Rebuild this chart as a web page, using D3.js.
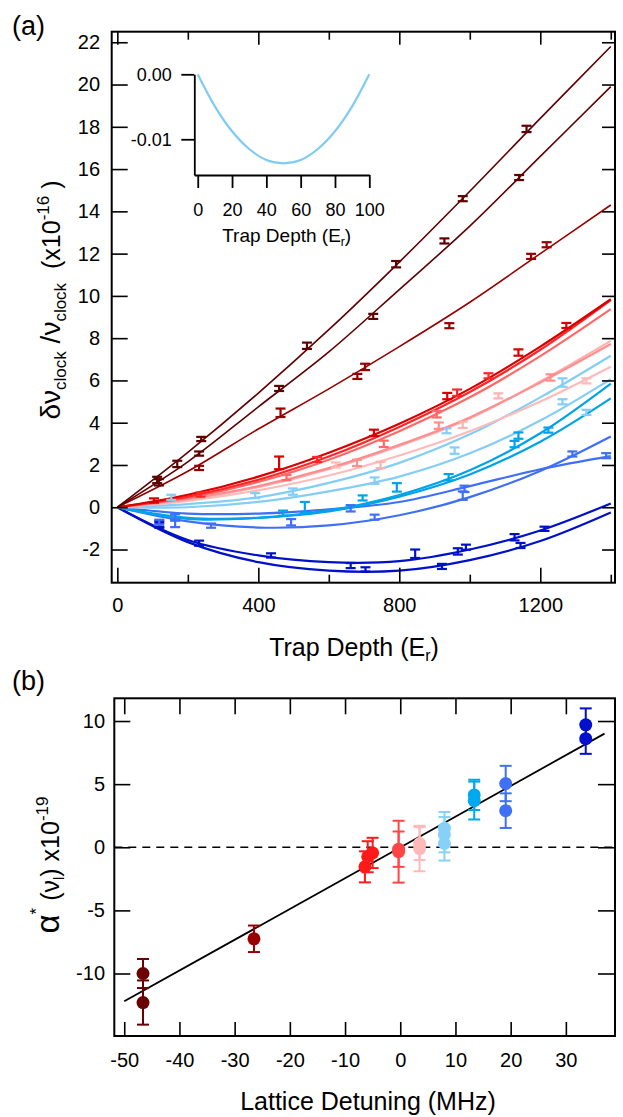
<!DOCTYPE html>
<html><head><meta charset="utf-8">
<script src="https://cdn.jsdelivr.net/npm/d3@7"></script>
<style>
body{margin:0;background:#fff}
svg{display:block}
text{font-family:"Liberation Sans",Arial,Helvetica,sans-serif;fill:#000}
</style>
</head><body>
<svg id="c" width="623" height="1117"></svg>
<script>
// ---------- Panel (a) data ----------
const depthGrid = [0, 200, 400, 600, 800, 1000, 1200, 1400];
const fitMaroon1 = [0, 2.6, 5.4, 8.4, 11.6, 14.95, 18.4, 21.8];
const fitMaroon2 = [0, 2.15, 4.75, 7.35, 10.3, 13.3, 16.6, 19.9];
const fitDarkRed = [0, 1.7, 3.7, 5.6, 7.6, 9.7, 12.0, 14.3];
const fitRedA = [0, 0.59, 1.45, 2.58, 3.95, 5.6, 7.6, 9.84];
const fitRedB = [0, 0.5, 1.3, 2.4, 3.8, 5.45, 7.45, 9.8];
const fitSalmon = [0, 0.45, 1.2, 2.25, 3.6, 5.2, 7.15, 9.37];
const fitSalmon2 = [0, 0.4, 1.0, 1.85, 2.95, 4.25, 5.9, 7.72];
const fitPink1 = [0, 0.35, 0.95, 1.8, 2.9, 4.2, 5.95, 7.87];
const fitPink2 = [0, 0.3, 0.8, 1.5, 2.45, 3.6, 5.0, 6.65];
const fitLightBlue1 = [0, 0.15, 0.47, 1.15, 2.1, 3.45, 5.2, 7.17];
const fitLightBlue2 = [0, 0.0, 0.25, 0.75, 1.45, 2.55, 4.1, 6.06];
const fitCyan1 = [0, -0.55, -0.5, -0.15, 0.58, 1.75, 3.5, 5.85];
const fitCyan2 = [0, -0.5, -0.5, -0.2, 0.5, 1.55, 3.1, 5.15];
const fitBlueFlat = [0, -0.3, -0.3, -0.1, 0.25, 1.0, 1.8, 2.42];
const fitBlueSteep = [0, -0.67, -0.96, -0.86, -0.38, 0.48, 1.72, 3.35];
const fitDarkBlue1 = [0, -1.55, -2.28, -2.6, -2.55, -2.0, -1.1, 0.18];
const fitDarkBlue2 = [0, -1.65, -2.6, -3.0, -3.0, -2.5, -1.6, -0.25];

// measured points [trap depth, shift, error]
const ptsMaroon1 = [[113,1.29,0.15],[170,2.05,0.15],[238,3.23,0.1],[538,7.64,0.15],[791,11.5,0.15],[980,14.6,0.12],[1161,17.9,0.15]];
const ptsMaroon2 = [[118,1.18,0.15],[232,2.54,0.1],[459,5.62,0.12],[726,9.03,0.12],[928,12.6,0.12],[1140,15.6,0.12]];
const ptsDarkRed = [[232,1.86,0.1],[463,4.47,0.2],[681,6.19,0.12],[703,6.64,0.15],[942,8.59,0.12],[1174,11.87,0.12],[1218,12.42,0.12]];
const ptsRedA = [[104,0.32,0.1],[459,2.1,0.3],[728,3.52,0.15],[936,5.26,0.15],[1138,7.32,0.15],[1274,8.6,0.12]];
const ptsRedB = [[236,0.6,0.1],[567,2.26,0.12],[964,5.42,0.15],[1053,6.22,0.12]];
const ptsSalmon = [[480,1.4,0.12],[756,3.0,0.15],[906,4.4,0.15]];
const ptsSalmon2 = [[680,2.1,0.15],[912,3.86,0.15],[1229,6.14,0.15]];
const ptsPink1 = [[747,2.0,0.15],[980,3.9,0.15],[1081,5.27,0.12]];
const ptsPink2 = [[620,2.0,0.12],[1331,5.98,0.12]];
const ptsLightBlue1 = [[153,0.47,0.12],[391,0.55,0.12],[934,3.62,0.12],[1263,5.9,0.2]];
const ptsLightBlue2 = [[498,0.74,0.15],[730,1.26,0.15],[957,2.68,0.15],[1263,4.99,0.12],[1331,4.49,0.12]];
const ptsCyan1 = [[470,-0.28,0.12],[696,0.44,0.12],[793,0.94,0.2],[1138,3.39,0.15],[1223,3.65,0.12]];
const ptsCyan2 = [[532,0.0,0.25],[940,1.42,0.15],[1127,2.99,0.15]];
const ptsBlueFlat = [[164,-0.45,0.12],[662,-0.05,0.15],[985,0.87,0.15],[1387,2.44,0.12]];
const ptsBlueSteep = [[119,-0.71,0.12],[164,-0.79,0.15],[266,-0.87,0.1],[493,-0.71,0.15],[730,-0.47,0.12],[980,0.55,0.2],[1291,2.52,0.12]];
const ptsDarkBlue1 = [[119,-0.79,0.15],[232,-1.7,0.12],[436,-2.28,0.1],[845,-2.2,0.2],[966,-2.09,0.15],[989,-1.89,0.12],[1127,-1.42,0.15],[1212,-1.02,0.1]];
const ptsDarkBlue2 = [[119,-0.85,0.12],[662,-2.76,0.12],[704,-2.94,0.1],[921,-2.8,0.12],[1144,-1.81,0.12]];

const seriesColors = ["#5e0000","#5e0000","#960000","#d80000","#ff2626","#ff6868","#ff8e8e","#ffb2b2","#ffbaba",
  "#84cdf6","#84cdf6","#00a3ea","#00a3ea","#3f6ff6","#3f6ff6","#0010c8","#0010c8"];

// inset data
const insetDepth = [0, 10, 20, 30, 40, 50, 60, 70, 80, 90, 100];
const insetShift = [0, -0.00493, -0.00877, -0.0115, -0.0132, -0.0137, -0.0132, -0.0115, -0.00877, -0.00493, 0];

// ---------- Panel (b) data ----------
const detuning = [-46.6, -46.6, -26.5, -6.4, -5.9, -5.0, -0.3, -0.3, 3.5, 3.5, 8.0, 8.0, 8.0, 13.4, 13.4, 19.1, 19.1, 33.6, 33.6];
const alphaStar = [-10.0, -12.3, -7.25, -1.55, -0.75, -0.45, -0.15, -0.35, 0.3, -0.1, 1.5, 1.0, 0.3, 4.15, 3.7, 5.05, 2.9, 9.7, 8.6];
const alphaErr = [1.15, 1.75, 1.05, 1.23, 1.23, 1.2, 1.4, 2.45, 1.3, 1.8, 1.3, 1.4, 1.35, 1.2, 1.5, 1.4, 1.37, 1.3, 1.2];
const pointColors = ["#6a0000","#6a0000","#990000","#ff1a1a","#ff1a1a","#ff1a1a","#ff4545","#ff4545","#ffb9b9","#ffb9b9",
  "#87d0f8","#87d0f8","#87d0f8","#00a8f0","#00a8f0","#4070f5","#4070f5","#0010cc","#0010cc"];
const fitLine = [[-50, -12.2], [37, 9.0]];

const ticksA_major = [0, 400, 800, 1200];
const ticksA_minor = [200, 600, 1000, 1400];
const ticksA_y = [-2, 0, 2, 4, 6, 8, 10, 12, 14, 16, 18, 20, 22];
const ticksInsetX = [0, 20, 40, 60, 80, 100];
const ticksInsetY = [0, -0.01];
const ticksB_x = [-50, -40, -30, -20, -10, 0, 10, 20, 30];
const ticksB_y = [-10, -5, 0, 5, 10];

// ---------- drawing ----------
const svg = d3.select("#c");
const fmt = d => String(d);

function styleAxis(g, w) {
  g.selectAll(".tick line").attr("stroke", "#000").attr("stroke-width", w);
  g.select(".domain").remove();
}

// Panel (a)
const xA = d3.scaleLinear().domain([-16, 1412]).range([111.7, 615]);
const yA = d3.scaleLinear().domain([-3.57, 22.5]).range([582.7, 31.7]);
const gA = svg.append("g");

const fits = [fitMaroon1, fitMaroon2, fitDarkRed, fitRedA, fitRedB, fitSalmon, fitSalmon2, fitPink1, fitPink2,
  fitLightBlue1, fitLightBlue2, fitCyan1, fitCyan2, fitBlueFlat, fitBlueSteep, fitDarkBlue1, fitDarkBlue2];
const pts = [ptsMaroon1, ptsMaroon2, ptsDarkRed, ptsRedA, ptsRedB, ptsSalmon, ptsSalmon2, ptsPink1, ptsPink2,
  ptsLightBlue1, ptsLightBlue2, ptsCyan1, ptsCyan2, ptsBlueFlat, ptsBlueSteep, ptsDarkBlue1, ptsDarkBlue2];

const lineA = d3.line().x(d => xA(d[0])).y(d => yA(d[1])).curve(d3.curveCatmullRom.alpha(0.5));
const order = d3.range(fits.length).reverse();
order.forEach(i => {
  const data = depthGrid.map((x, k) => [x, fits[i][k]]);
  gA.append("path").attr("d", lineA(data)).attr("fill", "none")
    .attr("stroke", seriesColors[i]).attr("stroke-width", i < 3 ? 1.6 : 2.2);
});
order.forEach(i => {
  const g = gA.append("g").attr("stroke", seriesColors[i]).attr("stroke-width", 2.2);
  pts[i].forEach(p => {
    const cx = xA(p[0]), y1 = yA(p[1] + p[2]), y2 = yA(p[1] - p[2]);
    g.append("line").attr("x1", cx).attr("x2", cx).attr("y1", y1).attr("y2", y2);
    g.append("line").attr("x1", cx - 5).attr("x2", cx + 5).attr("y1", y1).attr("y2", y1);
    g.append("line").attr("x1", cx - 5).attr("x2", cx + 5).attr("y1", y2).attr("y2", y2);
  });
});

gA.append("g").attr("transform", "translate(0,582.7)")
  .call(d3.axisBottom(xA).tickValues(ticksA_major).tickSize(-15).tickPadding(15).tickFormat(fmt))
  .call(g => styleAxis(g, 1.6)).call(g => g.selectAll("text").attr("font-size", 20));
gA.append("g").attr("transform", "translate(0,582.7)")
  .call(d3.axisBottom(xA).tickValues(ticksA_minor).tickSize(-8).tickFormat(""))
  .call(g => styleAxis(g, 1.6));
gA.append("g").attr("transform", "translate(0,31.7)")
  .call(d3.axisTop(xA).tickValues(ticksA_major).tickSize(-13).tickFormat(""))
  .call(g => styleAxis(g, 1.6));
gA.append("g").attr("transform", "translate(0,31.7)")
  .call(d3.axisTop(xA).tickValues(ticksA_minor).tickSize(-8).tickFormat(""))
  .call(g => styleAxis(g, 1.6));
gA.append("g").attr("transform", "translate(111.7,0)")
  .call(d3.axisLeft(yA).tickValues(ticksA_y).tickSize(-16).tickPadding(11.7).tickFormat(fmt))
  .call(g => styleAxis(g, 1.6)).call(g => g.selectAll("text").attr("font-size", 20));
gA.append("g").attr("transform", "translate(615,0)")
  .call(d3.axisRight(yA).tickValues(ticksA_y).tickSize(-13).tickFormat(""))
  .call(g => styleAxis(g, 1.6));
gA.append("rect").attr("x", 111.7).attr("y", 31.7).attr("width", 615 - 111.7).attr("height", 582.7 - 31.7)
  .attr("fill", "none").attr("stroke", "#000").attr("stroke-width", 2);

// inset
const xI = d3.scaleLinear().domain([-2, 100]).range([194.3, 369.3]);
const yI = d3.scaleLinear().domain([-0.0155, 0]).range([175, 74.3]);
const gI = svg.append("g");
gI.append("path").attr("d", d3.line().x(d => xI(d[0])).y(d => yI(d[1])).curve(d3.curveCatmullRom.alpha(0.5))(insetDepth.map((x, k) => [x, insetShift[k]])))
  .attr("fill", "none").attr("stroke", "#7fcbf4").attr("stroke-width", 2.2);
gI.append("g").attr("transform", "translate(0,175)")
  .call(d3.axisBottom(xI).tickValues(ticksInsetX).tickSize(13).tickSizeOuter(0).tickPadding(15).tickFormat(fmt))
  .call(g => { g.selectAll("line,path").attr("stroke", "#000").attr("stroke-width", 1.8); g.selectAll("text").attr("font-size", 18); });
gI.append("g").attr("transform", "translate(194.3,0)")
  .call(d3.axisLeft(yI).tickValues(ticksInsetY).tickSize(13).tickSizeOuter(0).tickPadding(9.5).tickFormat(d => d.toFixed(2)))
  .call(g => { g.selectAll("line,path").attr("stroke", "#000").attr("stroke-width", 1.8); g.selectAll("text").attr("font-size", 18); });
const tI = gI.append("text").attr("x", 286.7).attr("y", 241.7).attr("text-anchor", "middle").attr("font-size", 19);
tI.append("tspan").text("Trap Depth (E");
tI.append("tspan").attr("font-size", 12).attr("dy", 4).text("r");
tI.append("tspan").attr("dy", -4).text(")");

// axis titles (a)
const tA = svg.append("text").attr("x", 354).attr("y", 656).attr("text-anchor", "middle").attr("font-size", 25);
tA.append("tspan").text("Trap Depth (E");
tA.append("tspan").attr("font-size", 16).attr("dy", 5).text("r");
tA.append("tspan").attr("dy", -5).text(")");

const yTa = svg.append("text").attr("transform", "translate(60,300) rotate(-90)").attr("text-anchor", "middle")
  .attr("font-size", 25).style("white-space", "pre");
yTa.append("tspan").attr("font-size", 28).text("δν");
yTa.append("tspan").attr("font-size", 17).attr("dy", 6).text("clock");
yTa.append("tspan").attr("font-size", 28).attr("dy", -6).text(" /ν");
yTa.append("tspan").attr("font-size", 17).attr("dy", 6).text("clock");
yTa.append("tspan").attr("dy", -6).text("  (x10");
yTa.append("tspan").attr("font-size", 17).attr("dy", -11).text("-16");
yTa.append("tspan").attr("dy", 11).text(" )");

svg.append("text").attr("x", 12).attr("y", 35).attr("font-size", 27).text("(a)");

// Panel (b)
const xB = d3.scaleLinear().domain([-51.8, 38.9]).range([114.3, 615]);
const yB = d3.scaleLinear().domain([-14.95, 11.8]).range([1036, 698.3]);
const gB = svg.append("g");

gB.append("line").attr("x1", 114.3).attr("x2", 615).attr("y1", yB(0)).attr("y2", yB(0))
  .attr("stroke", "#000").attr("stroke-width", 1.6).attr("stroke-dasharray", "8,6");
gB.append("path").attr("d", d3.line().x(d => xB(d[0])).y(d => yB(d[1]))(fitLine))
  .attr("fill", "none").attr("stroke", "#000").attr("stroke-width", 1.8);

detuning.forEach((dx, i) => {
  const g = gB.append("g").attr("stroke", pointColors[i]).attr("stroke-width", 2);
  const cx = xB(dx), y1 = yB(alphaStar[i] + alphaErr[i]), y2 = yB(alphaStar[i] - alphaErr[i]);
  g.append("line").attr("x1", cx).attr("x2", cx).attr("y1", y1).attr("y2", y2);
  g.append("line").attr("x1", cx - 6).attr("x2", cx + 6).attr("y1", y1).attr("y2", y1);
  g.append("line").attr("x1", cx - 6).attr("x2", cx + 6).attr("y1", y2).attr("y2", y2);
});
detuning.forEach((dx, i) => {
  gB.append("circle").attr("cx", xB(dx)).attr("cy", yB(alphaStar[i])).attr("r", 6.5).attr("fill", pointColors[i]);
});

gB.append("g").attr("transform", "translate(0,1036)")
  .call(d3.axisBottom(xB).tickValues(ticksB_x).tickSize(-14).tickPadding(16.5).tickFormat(fmt))
  .call(g => styleAxis(g, 1.6)).call(g => g.selectAll("text").attr("font-size", 20));
gB.append("g").attr("transform", "translate(0,698.3)")
  .call(d3.axisTop(xB).tickValues(ticksB_x).tickSize(-16).tickFormat(""))
  .call(g => styleAxis(g, 1.6));
gB.append("g").attr("transform", "translate(114.3,0)")
  .call(d3.axisLeft(yB).tickValues(ticksB_y).tickSize(-16).tickPadding(9.3).tickFormat(fmt))
  .call(g => styleAxis(g, 1.6)).call(g => g.selectAll("text").attr("font-size", 20));
gB.append("g").attr("transform", "translate(615,0)")
  .call(d3.axisRight(yB).tickValues(ticksB_y).tickSize(-17).tickFormat(""))
  .call(g => styleAxis(g, 1.6));
gB.append("rect").attr("x", 114.3).attr("y", 698.3).attr("width", 615 - 114.3).attr("height", 1036 - 698.3)
  .attr("fill", "none").attr("stroke", "#000").attr("stroke-width", 2);

svg.append("text").attr("x", 368).attr("y", 1110).attr("text-anchor", "middle").attr("font-size", 25)
  .text("Lattice Detuning (MHz)");

const yTb = svg.append("text").attr("transform", "translate(59,865) rotate(-90)").attr("text-anchor", "middle")
  .attr("font-size", 25).style("white-space", "pre");
yTb.append("tspan").attr("font-size", 33).text("α");
yTb.append("tspan").attr("font-size", 17).attr("dy", -17).text("*");
yTb.append("tspan").attr("dy", 17).text(" (ν");
yTb.append("tspan").attr("font-size", 15).attr("dy", 5).text("l");
yTb.append("tspan").attr("dy", -5).text(") x10");
yTb.append("tspan").attr("font-size", 17).attr("dy", -11).text("-19");

svg.append("text").attr("x", 12).attr("y", 690).attr("font-size", 27).text("(b)");
</script>
</body></html>
